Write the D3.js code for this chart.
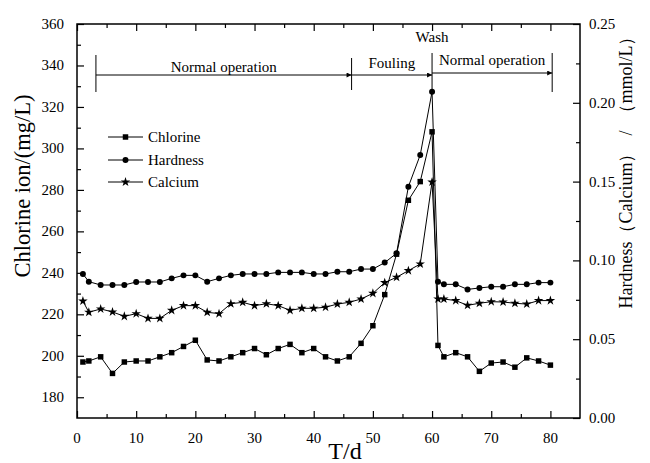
<!DOCTYPE html>
<html>
<head>
<meta charset="utf-8">
<script src="https://cdn.jsdelivr.net/npm/d3@7"></script>
<style>
  body { margin: 0; background: #fff; }
  svg { display: block; font-family: "Liberation Serif", "Times New Roman", serif; }
</style>
</head>
<body>
<svg id="chart"></svg>
<script>
// days of sampling
const days = [1, 2, 4, 6, 8, 10, 12, 14, 16, 18, 20, 22, 24, 26, 28, 30, 32, 34, 36, 38, 40,
              42, 44, 46, 48, 50, 52, 54, 56, 58, 60, 61, 62, 64, 66, 68, 70, 72, 74, 76, 78, 80];

// left axis, mg/L
const chlorine = [197, 197.5, 199.5, 191.5, 197, 197.5, 197.5, 199.5, 201.5, 204.5, 207.5,
                  198, 197.5, 199.5, 201.5, 203.5, 200.5, 203.5, 205.5, 201.5, 203.5,
                  199.5, 197.5, 199.5, 206, 214.5, 229.5, 249, 275, 284, 308,
                  205, 199.5, 201.5, 199.5, 192.5, 196.5, 197, 194.5, 199, 197.5, 195.5];

// right axis, mmol/L
const hardness = [0.0914, 0.0865, 0.0844, 0.0844, 0.0844, 0.0863, 0.0863, 0.0863, 0.0886, 0.0905, 0.0905,
                  0.0865, 0.0886, 0.0905, 0.0914, 0.0914, 0.0914, 0.0924, 0.0924, 0.0924, 0.0914,
                  0.0914, 0.0928, 0.0928, 0.0945, 0.0945, 0.0986, 0.1045, 0.1468, 0.1669, 0.207,
                  0.0865, 0.0848, 0.0848, 0.0816, 0.0825, 0.0833, 0.0833, 0.0848, 0.0848, 0.0859, 0.0859];

const calcium = [0.0742, 0.0671, 0.0692, 0.0673, 0.0645, 0.0662, 0.0632, 0.0632, 0.0683, 0.0713, 0.0713,
                 0.0671, 0.0662, 0.0725, 0.0734, 0.0713, 0.0725, 0.0713, 0.0683, 0.0696, 0.0696,
                 0.0703, 0.0723, 0.0734, 0.0755, 0.0791, 0.0859, 0.0893, 0.0935, 0.0977, 0.1497,
                 0.0755, 0.0755, 0.0745, 0.0715, 0.0728, 0.0738, 0.0736, 0.0728, 0.0723, 0.0745, 0.0745];

const xTicks = [0, 10, 20, 30, 40, 50, 60, 70, 80];
const leftTicks = [180, 200, 220, 240, 260, 280, 300, 320, 340, 360];
const rightTicks = [0, 0.05, 0.10, 0.15, 0.20, 0.25];

// stages marked above the curves (day ranges)
const stageLabels = ["Normal operation", "Fouling", "Normal operation"];
const stageStart = [3.2, 46.4, 60];
const stageEnd = [46.4, 60, 80.3];

const width = 650, height = 463;
const svg = d3.select("#chart").attr("width", width).attr("height", height);

const x = d3.scaleLinear().domain([0, 85]).range([77, 580]);
const yL = d3.scaleLinear().domain([170, 360]).range([418, 24]);
const yR = d3.scaleLinear().domain([0, 0.25]).range([418, 24]);

const plotLeft = x.range()[0], plotRight = x.range()[1];
const plotTop = yL.range()[1], plotBottom = yL.range()[0];

// axes, ticks pointing inward
const minorX = d3.range(5, 85, 10);
svg.append("g").attr("transform", `translate(0,${plotBottom})`)
   .call(d3.axisTop(x).tickValues(minorX).tickSize(4).tickFormat(""));
svg.append("g").attr("transform", `translate(0,${plotBottom})`)
   .call(d3.axisTop(x).tickValues(xTicks).tickSize(7).tickFormat(""));
svg.append("g").attr("transform", `translate(0,${plotTop})`)
   .call(d3.axisBottom(x).tickValues(minorX).tickSize(4).tickFormat(""));
svg.append("g").attr("transform", `translate(0,${plotTop})`)
   .call(d3.axisBottom(x).tickValues(xTicks).tickSize(7).tickFormat(""));

const minorL = d3.range(190, 360, 20);
svg.append("g").attr("transform", `translate(${plotLeft},0)`)
   .call(d3.axisRight(yL).tickValues(minorL).tickSize(4).tickFormat(""));
svg.append("g").attr("transform", `translate(${plotLeft},0)`)
   .call(d3.axisRight(yL).tickValues(leftTicks).tickSize(7).tickFormat(""));

const minorR = [0.025, 0.075, 0.125, 0.175, 0.225];
svg.append("g").attr("transform", `translate(${plotRight},0)`)
   .call(d3.axisLeft(yR).tickValues(minorR).tickSize(4).tickFormat(""));
svg.append("g").attr("transform", `translate(${plotRight},0)`)
   .call(d3.axisLeft(yR).tickValues(rightTicks).tickSize(7).tickFormat(""));

svg.selectAll(".domain").remove();
svg.selectAll(".tick line").attr("stroke", "#000").attr("stroke-width", 1.2);

// frame
svg.append("rect")
   .attr("x", plotLeft).attr("y", plotTop)
   .attr("width", plotRight - plotLeft).attr("height", plotBottom - plotTop)
   .attr("fill", "none").attr("stroke", "#000").attr("stroke-width", 1.5);

// tick labels
svg.selectAll(".xlab").data(xTicks).enter().append("text")
   .attr("x", d => x(d)).attr("y", 443)
   .attr("text-anchor", "middle").attr("font-size", 15)
   .text(d => d);

svg.selectAll(".llab").data(leftTicks).enter().append("text")
   .attr("x", 64).attr("y", d => yL(d) + 5)
   .attr("text-anchor", "end").attr("font-size", 15)
   .text(d => d);

svg.selectAll(".rlab").data(rightTicks).enter().append("text")
   .attr("x", 589).attr("y", d => yR(d) + 5)
   .attr("font-size", 15)
   .text(d => d3.format(".2f")(d));

// axis titles
svg.append("text")
   .attr("transform", "translate(30,186) rotate(-90)")
   .attr("text-anchor", "middle").attr("font-size", 22.5)
   .text("Chlorine ion/(mg/L)");

svg.append("text")
   .attr("transform", "translate(632,168) rotate(-90)")
   .attr("text-anchor", "middle").attr("font-size", 18)
   .style("white-space", "pre")
   .text("Hardness（Calcium）  /  （mmol/L）");

svg.append("text")
   .attr("x", 345).attr("y", 459)
   .attr("text-anchor", "middle").attr("font-size", 24)
   .text("T/d");

// series
const series = [
  { name: "Chlorine", values: chlorine, y: yL, symbol: d3.symbolSquare, size: 30 },
  { name: "Hardness", values: hardness, y: yR, symbol: d3.symbolCircle, size: 28 },
  { name: "Calcium", values: calcium, y: yR, symbol: d3.symbolStar, size: 28 }
];

series.forEach(s => {
  const pts = days.map((d, i) => [d, s.values[i]]);
  svg.append("path")
     .datum(pts)
     .attr("fill", "none").attr("stroke", "#000").attr("stroke-width", 1)
     .attr("d", d3.line().x(d => x(d[0])).y(d => s.y(d[1])));
  svg.append("g").selectAll("path")
     .data(pts).enter().append("path")
     .attr("transform", d => `translate(${x(d[0])},${s.y(d[1])})`)
     .attr("d", d3.symbol().type(s.symbol).size(s.size))
     .attr("fill", "#000");
});

// legend
const legendY = [137, 160, 182];
series.forEach((s, i) => {
  const g = svg.append("g").attr("transform", `translate(0,${legendY[i]})`);
  g.append("line").attr("x1", 108).attr("x2", 143).attr("y1", 0).attr("y2", 0)
   .attr("stroke", "#000").attr("stroke-width", 1);
  g.append("path").attr("transform", "translate(125.5,0)")
   .attr("d", d3.symbol().type(s.symbol).size(s.size)).attr("fill", "#000");
  g.append("text").attr("x", 148).attr("y", 5).attr("font-size", 15).text(s.name);
});

// stage annotations
svg.append("defs").append("marker")
   .attr("id", "arrow").attr("viewBox", "0 0 10 10")
   .attr("refX", 10).attr("refY", 5)
   .attr("markerWidth", 8).attr("markerHeight", 5)
   .attr("markerUnits", "userSpaceOnUse")
   .attr("orient", "auto")
   .append("path").attr("d", "M0,0L10,5L0,10z").attr("fill", "#000");

const arrowY = [75, 75, 73];
const labelY = [72, 68, 65];
stageLabels.forEach((lab, i) => {
  svg.append("line")
     .attr("x1", x(stageStart[i])).attr("x2", x(stageEnd[i]))
     .attr("y1", arrowY[i]).attr("y2", arrowY[i])
     .attr("stroke", "#000").attr("stroke-width", 1)
     .attr("marker-end", "url(#arrow)");
  svg.append("text")
     .attr("x", (x(stageStart[i]) + x(stageEnd[i])) / 2)
     .attr("y", labelY[i])
     .attr("text-anchor", "middle").attr("font-size", 15)
     .text(lab);
});

// stage boundaries
const bounds = [[3.2, 55, 92], [46.4, 58, 90], [60, 53, 92], [80.3, 53, 92]];
bounds.forEach(b => {
  svg.append("line")
     .attr("x1", x(b[0])).attr("x2", x(b[0]))
     .attr("y1", b[1]).attr("y2", b[2])
     .attr("stroke", "#000").attr("stroke-width", 1);
});

svg.append("text")
   .attr("x", x(60)).attr("y", 42)
   .attr("text-anchor", "middle").attr("font-size", 15)
   .text("Wash");
</script>
</body>
</html>
